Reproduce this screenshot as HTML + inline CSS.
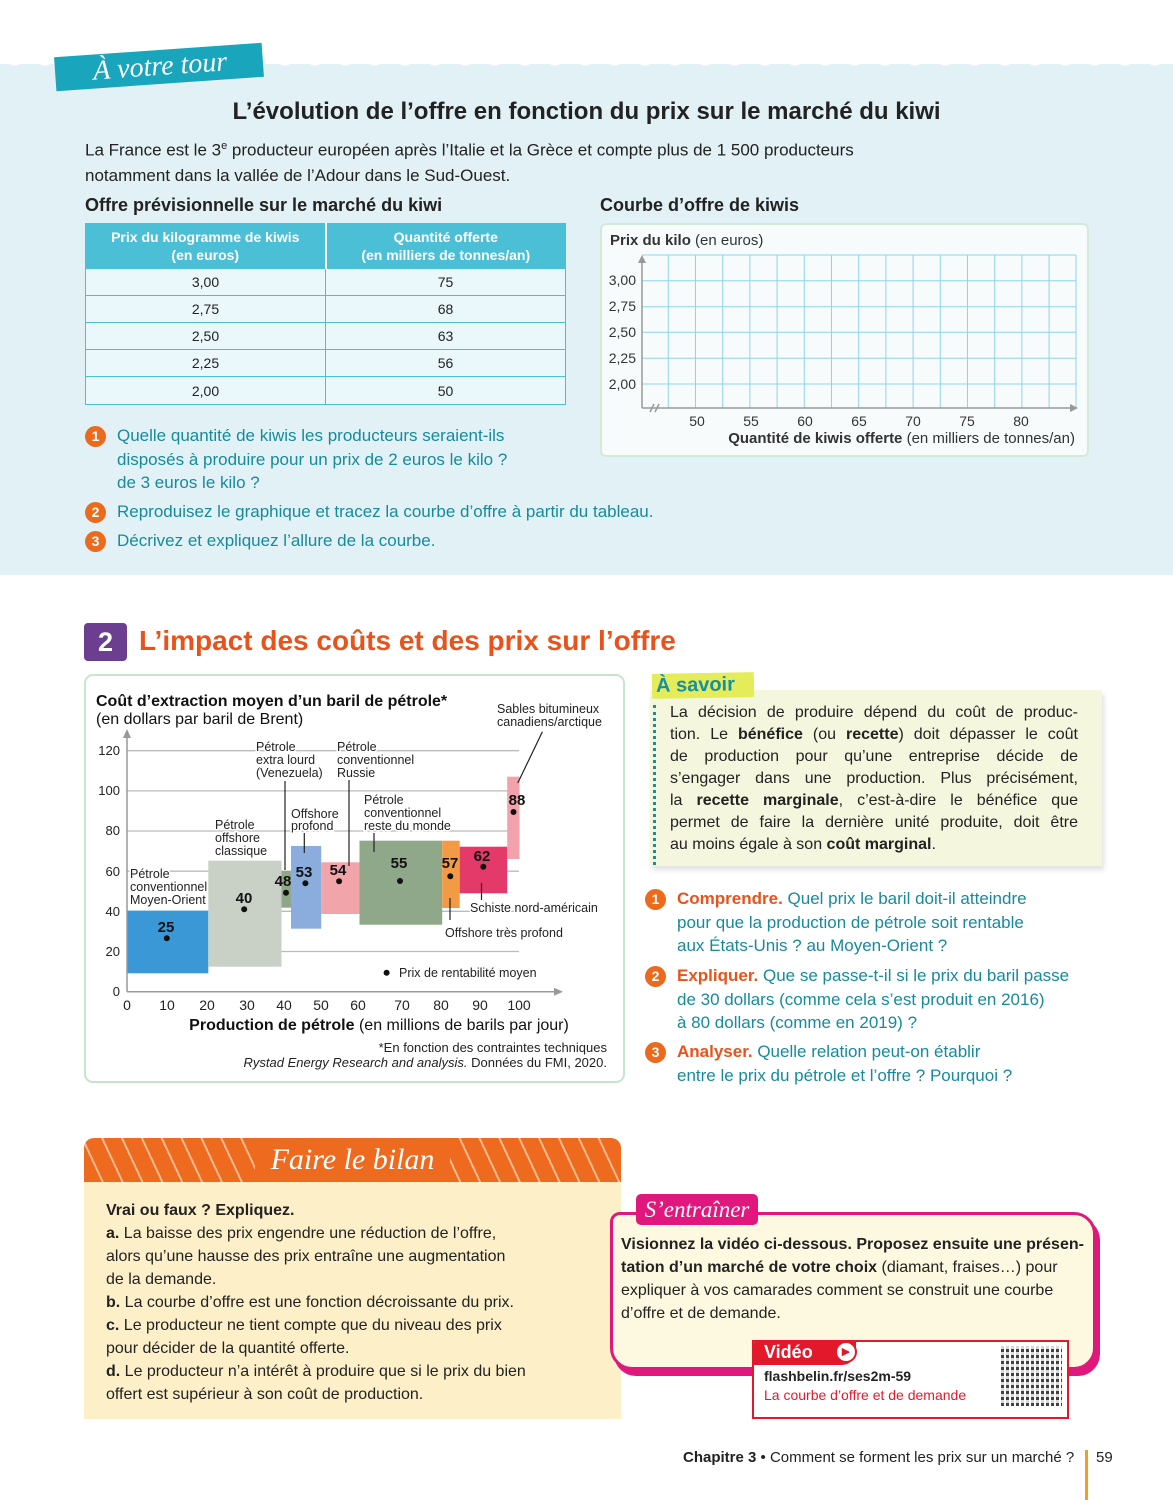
<!DOCTYPE html>
<html><head><meta charset="utf-8">
<style>
*{margin:0;padding:0;box-sizing:border-box}
body{width:1173px;height:1500px;position:relative;background:#fff;font-family:"Liberation Sans",sans-serif;color:#222;overflow:hidden}
.a{position:absolute;white-space:nowrap}
.n{font-family:"Liberation Sans Narrow","Liberation Sans",sans-serif}
.num{position:absolute;width:21px;height:21px;border-radius:50%;background:#ec6a1c;color:#fff;font-weight:bold;font-size:14px;text-align:center;line-height:21px}
.q{position:absolute;font-size:17px;line-height:23.5px;color:#178a9c;white-space:nowrap}
table{border-collapse:collapse}
.j{text-align:justify;text-align-last:justify;white-space:nowrap}
</style></head><body>
<div class="a" style="left:0;top:64px;width:1173px;height:511px;background:#e2f1f5"></div>
<div class="a" style="left:0;top:56px;width:1173px;height:16px;background:radial-gradient(circle at 15px 0px,#fff 9px,transparent 10px);background-size:30px 16px"></div>
<div class="a" style="left:55px;top:50px;width:208px;height:34px;background:#19a5bb;transform:rotate(-4deg);color:#fff;font-family:'Liberation Serif',serif;font-style:italic;font-size:28px;line-height:34px;padding-left:38px">À votre tour</div>
<div class="a" style="left:0;top:98px;width:1173px;text-align:center;font-size:24px;font-weight:bold;color:#222">L’évolution de l’offre en fonction du prix sur le marché du kiwi</div>
<div class="a" style="left:85px;top:134px;font-size:17px;line-height:25px">La France est le 3<sup style="font-size:11px">e</sup> producteur européen après l’Italie et la Grèce et compte plus de 1 500 producteurs<br>notamment dans la vallée de l’Adour dans le Sud-Ouest.</div>
<div class="a n" style="left:85px;top:195px;font-size:18px;font-weight:bold">Offre prévisionnelle sur le marché du kiwi</div>
<div class="a n" style="left:600px;top:195px;font-size:18px;font-weight:bold">Courbe d’offre de kiwis</div>
<table class="a n" style="left:85px;top:223px;width:481px;font-size:14px;text-align:center">
<tr style="background:#4bbfd6;color:#fff;font-weight:bold;height:45px;line-height:18px"><td style="width:240px;border:1px solid #4bbfd6;border-right:2px solid #fff">Prix du kilogramme de kiwis<br>(en euros)</td><td style="border:1px solid #4bbfd6">Quantité offerte<br>(en milliers de tonnes/an)</td></tr>
<tr style="height:27px;background:#eaf7fb"><td style="border:1px solid #4bbfd6">3,00</td><td style="border:1px solid #4bbfd6">75</td></tr>
<tr style="height:27px;background:#eaf7fb"><td style="border:1px solid #4bbfd6">2,75</td><td style="border:1px solid #4bbfd6">68</td></tr>
<tr style="height:27px;background:#eaf7fb"><td style="border:1px solid #4bbfd6">2,50</td><td style="border:1px solid #4bbfd6">63</td></tr>
<tr style="height:27px;background:#eaf7fb"><td style="border:1px solid #4bbfd6">2,25</td><td style="border:1px solid #4bbfd6">56</td></tr>
<tr style="height:28px;background:#eaf7fb"><td style="border:1px solid #4bbfd6">2,00</td><td style="border:1px solid #4bbfd6">50</td></tr>
</table>
<div class="a" style="left:600px;top:223px;width:489px;height:234px;background:#f7fbfc;border:2px solid #d3ead9;border-radius:6px"></div>
<svg class="a" style="left:0;top:0" width="1173" height="1500" font-family="Liberation Sans Narrow, Liberation Sans, sans-serif">
<g stroke="#8fd3ee" stroke-width="1">
<line x1="642" y1="255" x2="1076" y2="255"/><line x1="642" y1="280.7" x2="1076" y2="280.7"/><line x1="642" y1="306.7" x2="1076" y2="306.7"/><line x1="642" y1="332.3" x2="1076" y2="332.3"/><line x1="642" y1="358.3" x2="1076" y2="358.3"/><line x1="642" y1="384" x2="1076" y2="384"/>
<line x1="668.3" y1="255" x2="668.3" y2="408"/><line x1="695.5" y1="255" x2="695.5" y2="408"/><line x1="722.7" y1="255" x2="722.7" y2="408"/><line x1="749.9" y1="255" x2="749.9" y2="408"/><line x1="777.1" y1="255" x2="777.1" y2="408"/><line x1="804.3" y1="255" x2="804.3" y2="408"/><line x1="831.5" y1="255" x2="831.5" y2="408"/><line x1="858.7" y1="255" x2="858.7" y2="408"/><line x1="885.9" y1="255" x2="885.9" y2="408"/><line x1="913.1" y1="255" x2="913.1" y2="408"/><line x1="940.3" y1="255" x2="940.3" y2="408"/><line x1="967.5" y1="255" x2="967.5" y2="408"/><line x1="994.7" y1="255" x2="994.7" y2="408"/><line x1="1021.9" y1="255" x2="1021.9" y2="408"/><line x1="1049.1" y1="255" x2="1049.1" y2="408"/><line x1="1076" y1="255" x2="1076" y2="408"/>
</g>
<g stroke="#999" stroke-width="1.5" fill="none"><line x1="642" y1="408" x2="642" y2="258"/><line x1="642" y1="408" x2="1072" y2="408"/><path d="M650 412 L654 404 M655 412 L659 404"/></g>
<path d="M642 255 l-4 8 h8z M1078 408 l-8 -4 v8z" fill="#999"/>
<g font-size="14" fill="#333" text-anchor="end"><text x="636" y="285">3,00</text><text x="636" y="311">2,75</text><text x="636" y="337">2,50</text><text x="636" y="363">2,25</text><text x="636" y="389">2,00</text></g>
<g font-size="14" fill="#333" text-anchor="middle"><text x="697" y="426">50</text><text x="751" y="426">55</text><text x="805" y="426">60</text><text x="859" y="426">65</text><text x="913" y="426">70</text><text x="967" y="426">75</text><text x="1021" y="426">80</text></g>
<text x="1075" y="443" font-size="15" text-anchor="end" fill="#333"><tspan font-weight="bold">Quantité de kiwis offerte</tspan> (en milliers de tonnes/an)</text>
<text x="610" y="245" font-size="15" fill="#333"><tspan font-weight="bold">Prix du kilo</tspan> (en euros)</text>

<rect x="85" y="675" width="539" height="407" rx="8" fill="#fff" stroke="#c6e6cb" stroke-width="2"/>
<g stroke="#bbb" stroke-width="1.3">
<line x1="127" y1="750.7" x2="519" y2="750.7"/><line x1="127" y1="790.9" x2="519" y2="790.9"/><line x1="127" y1="831" x2="519" y2="831"/><line x1="127" y1="871.2" x2="519" y2="871.2"/><line x1="127" y1="911.3" x2="519" y2="911.3"/><line x1="281" y1="951.5" x2="519" y2="951.5"/>
</g>
<rect x="127.5" y="910.7" width="80.8" height="62.6" fill="#3a98d6"/>
<rect x="208.3" y="860.7" width="73.2" height="106" fill="#c9d0c6"/>
<rect x="281.5" y="871" width="9.5" height="36.7" fill="#8fa88a"/>
<rect x="291" y="846" width="30.2" height="82.7" fill="#8badde"/>
<rect x="321.2" y="862.3" width="38.3" height="51.7" fill="#f1a4aa"/>
<rect x="359.5" y="840.7" width="82.7" height="84" fill="#8fa88a"/>
<rect x="442.2" y="840.7" width="17.5" height="67.3" fill="#f39a45"/>
<rect x="459.7" y="846.7" width="47.5" height="46.6" fill="#e33a69"/>
<rect x="507.2" y="776.7" width="12.3" height="82.3" fill="#f1a2aa"/>
<g stroke="#222" stroke-width="1.2">
<line x1="285" y1="870" x2="285" y2="781"/><line x1="349" y1="866" x2="349" y2="780"/><line x1="304.3" y1="833" x2="304.3" y2="853"/><line x1="374" y1="833" x2="374" y2="852"/><line x1="481.5" y1="883" x2="481.5" y2="900"/><line x1="450" y1="898" x2="450" y2="920"/><line x1="542.4" y1="731.7" x2="517.8" y2="783"/>
</g>
<g stroke="#999" stroke-width="1.5"><line x1="127" y1="991.7" x2="127" y2="736"/><line x1="127" y1="991.7" x2="556" y2="991.7"/></g>
<path d="M127 729 l-4 9 h8z M563 991.7 l-9 -4 v8z" fill="#999"/>
<g fill="#111"><circle cx="166.8" cy="938.3" r="3"/><circle cx="244.2" cy="909.3" r="3"/><circle cx="286" cy="892.7" r="3"/><circle cx="305.4" cy="883.3" r="3"/><circle cx="339.1" cy="881.3" r="3"/><circle cx="400" cy="881" r="3"/><circle cx="450.3" cy="876.3" r="3"/><circle cx="483.3" cy="866.7" r="3"/><circle cx="513.5" cy="812" r="3"/><circle cx="386.6" cy="972.7" r="3"/></g>
<g font-size="15" font-weight="bold" text-anchor="middle" fill="#111"><text x="166" y="932">25</text><text x="244" y="903">40</text><text x="283" y="886">48</text><text x="304" y="877">53</text><text x="338" y="875">54</text><text x="399" y="868">55</text><text x="450" y="868">57</text><text x="482" y="861">62</text><text x="517" y="805">88</text></g>
<g font-size="13" fill="#222" text-anchor="end"><text x="120" y="755">120</text><text x="120" y="795">100</text><text x="120" y="835">80</text><text x="120" y="876">60</text><text x="120" y="916">40</text><text x="120" y="956">20</text><text x="120" y="996">0</text></g>
<g font-size="14" fill="#222" text-anchor="middle"><text x="127" y="1010">0</text><text x="167" y="1010">10</text><text x="207" y="1010">20</text><text x="247" y="1010">30</text><text x="284" y="1010">40</text><text x="321" y="1010">50</text><text x="358" y="1010">60</text><text x="402" y="1010">70</text><text x="441" y="1010">80</text><text x="480" y="1010">90</text><text x="519" y="1010">100</text></g>
<g font-size="12.5" fill="#222" stroke="#fff" stroke-width="3" paint-order="stroke">
<text x="256" y="751">Pétrole</text><text x="256" y="764">extra lourd</text><text x="256" y="777">(Venezuela)</text>
<text x="337" y="751">Pétrole</text><text x="337" y="764">conventionnel</text><text x="337" y="777">Russie</text>
<text x="291" y="818">Offshore</text><text x="291" y="830">profond</text>
<text x="215" y="829">Pétrole</text><text x="215" y="842">offshore</text><text x="215" y="855">classique</text>
<text x="364" y="804">Pétrole</text><text x="364" y="817">conventionnel</text><text x="364" y="830">reste du monde</text>
<text x="130" y="878">Pétrole</text><text x="130" y="891">conventionnel</text><text x="130" y="904">Moyen-Orient</text>
<text x="497" y="713">Sables bitumineux</text><text x="497" y="726">canadiens/arctique</text>
<text x="470" y="912">Schiste nord-américain</text>
<text x="445" y="937">Offshore très profond</text>
<text x="399" y="977">Prix de rentabilité moyen</text>
</g>
<text x="96" y="706" font-size="16" font-weight="bold" fill="#111">Coût d’extraction moyen d’un baril de pétrole*</text>
<text x="96" y="724" font-size="16" fill="#111">(en dollars par baril de Brent)</text>
<text x="379" y="1030" font-size="16" text-anchor="middle" fill="#111"><tspan font-weight="bold">Production de pétrole</tspan> (en millions de barils par jour)</text>
<text x="607" y="1052" font-size="13" text-anchor="end" fill="#222">*En fonction des contraintes techniques</text>
<text x="607" y="1067" font-size="13" text-anchor="end" fill="#222"><tspan font-style="italic">Rystad Energy Research and analysis.</tspan> Données du FMI, 2020.</text>
</svg>
<div class="num" style="left:85px;top:426px">1</div>
<div class="q" style="left:117px;top:424px">Quelle quantité de kiwis les producteurs seraient-ils<br>disposés à produire pour un prix de 2 euros le kilo ?<br>de 3 euros le kilo ?</div>
<div class="num" style="left:85px;top:502px">2</div>
<div class="q" style="left:117px;top:500px">Reproduisez le graphique et tracez la courbe d’offre à partir du tableau.</div>
<div class="num" style="left:85px;top:531px">3</div>
<div class="q" style="left:117px;top:529px">Décrivez et expliquez l’allure de la courbe.</div>
<div class="a" style="left:84px;top:623px;width:43px;height:38px;background:#6b3e90;border-radius:4px;color:#fff;font-size:27px;font-weight:bold;text-align:center;line-height:38px">2</div>
<div class="a" style="left:139px;top:625px;font-size:28px;font-weight:bold;color:#e8531c">L’impact des coûts et des prix sur l’offre</div>
<div class="a" style="left:650px;top:690px;width:452px;height:176px;background:#f4f6dd;box-shadow:2px 4px 5px rgba(0,0,0,.12)"></div>
<div class="a" style="left:652px;top:673px;width:102px;height:25px;background:#e4ec5a;color:#158fa2;font-size:20px;font-weight:bold;line-height:25px;padding-left:4px;transform:rotate(-1deg)">À savoir</div>
<div class="a" style="left:653px;top:705px;height:160px;border-left:3px dotted #1a8c9e"></div>
<div class="a" style="left:670px;top:702px;width:408px;font-size:16px;line-height:22px;color:#222">
<div class="j">La décision de produire dépend du coût de produc-</div>
<div class="j">tion. Le <b>bénéfice</b> (ou <b>recette</b>) doit dépasser le coût</div>
<div class="j">de production pour qu’une entreprise décide de</div>
<div class="j">s’engager dans une production. Plus précisément,</div>
<div class="j">la <b>recette marginale</b>, c’est-à-dire le bénéfice que</div>
<div class="j">permet de faire la dernière unité produite, doit être</div>
<div>au moins égale à son <b>coût marginal</b>.</div>
</div>
<div class="num" style="left:645px;top:889px">1</div>
<div class="q" style="left:677px;top:887px"><b style="color:#e8531c">Comprendre.</b> Quel prix le baril doit-il atteindre<br>pour que la production de pétrole soit rentable<br>aux États-Unis ? au Moyen-Orient ?</div>
<div class="num" style="left:645px;top:966px">2</div>
<div class="q" style="left:677px;top:964px"><b style="color:#e8531c">Expliquer.</b> Que se passe-t-il si le prix du baril passe<br>de 30 dollars (comme cela s’est produit en 2016)<br>à 80 dollars (comme en 2019) ?</div>
<div class="num" style="left:645px;top:1042px">3</div>
<div class="q" style="left:677px;top:1040px"><b style="color:#e8531c">Analyser.</b> Quelle relation peut-on établir<br>entre le prix du pétrole et l’offre ? Pourquoi ?</div>
<div class="a" style="left:84px;top:1138px;width:537px;height:44px;border-radius:10px 10px 0 0;background:repeating-linear-gradient(65deg,#ee6a1f 0 16px,#f9b98f 16px 18px)"></div>
<div class="a" style="left:255px;top:1138px;width:195px;height:44px;background:#ee6a1f;color:#fff;font-family:'Liberation Serif',serif;font-style:italic;font-size:30px;text-align:center;line-height:44px">Faire le bilan</div>
<div class="a" style="left:84px;top:1182px;width:537px;height:237px;background:#fdf0c9"></div>
<div class="a" style="left:106px;top:1199px;font-size:16px;line-height:23px;color:#222"><b>Vrai ou faux ? Expliquez.</b><br><b>a.</b> La baisse des prix engendre une réduction de l’offre,<br>alors qu’une hausse des prix entraîne une augmentation<br>de la demande.<br><b>b.</b> La courbe d’offre est une fonction décroissante du prix.<br><b>c.</b> Le producteur ne tient compte que du niveau des prix<br>pour décider de la quantité offerte.<br><b>d.</b> Le producteur n’a intérêt à produire que si le prix du bien<br>offert est supérieur à son coût de production.</div>
<div class="a" style="left:610px;top:1212px;width:486px;height:158px;background:#fdf9e0;border:3px solid #e0177d;border-radius:10px 22px 22px 22px;box-shadow:4px 6px 0 #e0177d"></div>
<div class="a" style="left:636px;top:1194px;width:122px;height:31px;background:#e0177d;border-radius:5px;color:#fff;font-family:'Liberation Serif',serif;font-style:italic;font-size:23px;line-height:31px;text-align:center">S’entraîner</div>
<div class="a" style="left:621px;top:1233px;font-size:16px;line-height:23px;color:#222"><b>Visionnez la vidéo ci-dessous. Proposez ensuite une présen-<br>tation d’un marché de votre choix</b> (diamant, fraises…) pour<br>expliquer à vos camarades comment se construit une courbe<br>d’offre et de demande.</div>
<div class="a" style="left:752px;top:1340px;width:317px;height:79px;background:#fff;border:2px solid #e3192b"></div>
<div class="a" style="left:752px;top:1340px;width:104px;height:25px;background:#e3192b;border-radius:8px 0 14px 0;color:#fff;font-weight:bold;font-size:18px;line-height:25px;padding-left:12px">Vidéo</div>
<div class="a" style="left:835px;top:1341px;width:22px;height:22px;border-radius:50%;background:#fff;border:2px solid #e3192b;color:#e3192b;font-size:11px;text-align:center;line-height:18px">▶</div>
<div class="a n" style="left:764px;top:1368px;font-size:14px;font-weight:bold;color:#222">flashbelin.fr/ses2m-59</div>
<div class="a" style="left:764px;top:1387px;font-size:14px;color:#e3192b">La courbe d’offre et de demande</div>
<div class="a" style="left:1001px;top:1346px;width:61px;height:60px;background:repeating-linear-gradient(90deg,#222 0 3px,#fff 3px 5px),#222;opacity:.85"></div>
<div class="a" style="left:1001px;top:1346px;width:61px;height:60px;background:repeating-linear-gradient(0deg,transparent 0 3px,rgba(255,255,255,.8) 3px 6px)"></div>
<div class="a" style="left:683px;top:1449px;font-size:15px;color:#222"><b>Chapitre 3</b> • Comment se forment les prix sur un marché ?</div>
<div class="a" style="left:1085px;top:1450px;width:3px;height:50px;background:#f0a020"></div>
<div class="a" style="left:1096px;top:1449px;font-size:15px;color:#222">59</div>
</body></html>
